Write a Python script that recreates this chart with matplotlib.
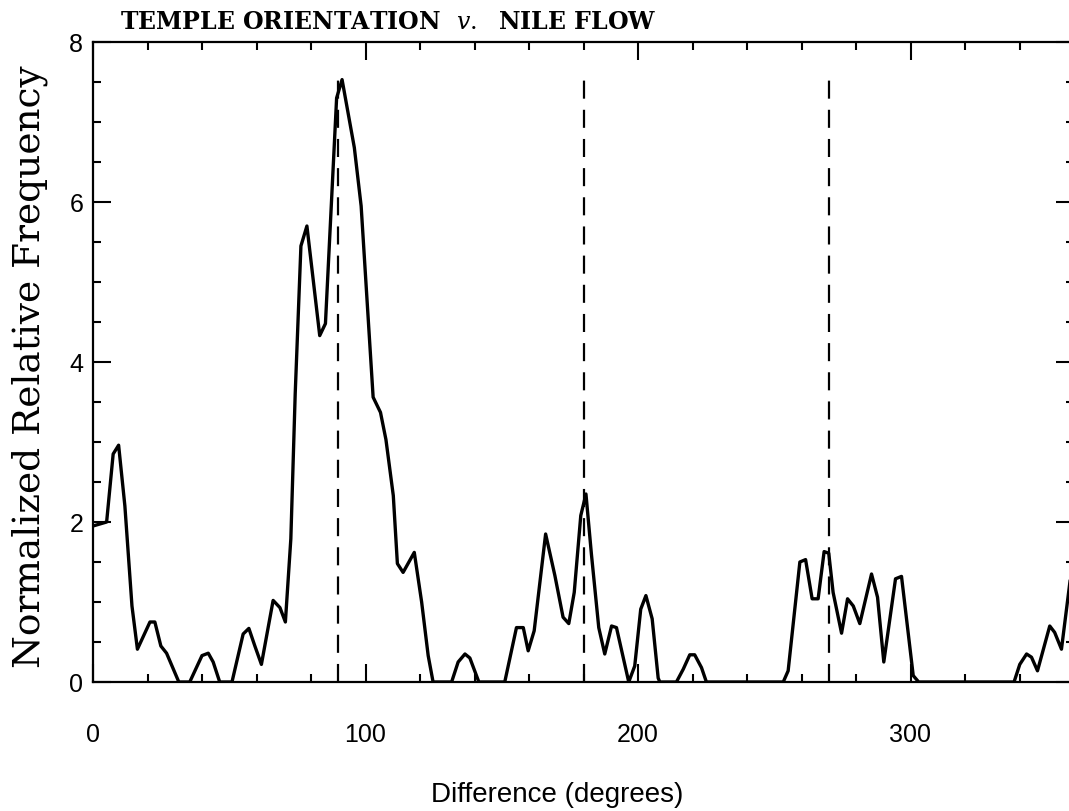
import matplotlib
matplotlib.use('Agg')
from matplotlib import pyplot as plt
from matplotlib.ticker import MultipleLocator

# curve vertices
difference_deg = [0.0, 5.0, 7.4, 9.4, 11.7, 14.3, 16.3, 20.9, 22.7, 24.9,
                  27.0, 31.5, 35.5, 40.0, 42.3, 44.1, 46.5, 51.0, 55.1, 57.2,
                  59.4, 61.8, 66.1, 68.6, 70.6, 72.6, 74.2, 76.3, 78.5, 83.2,
                  85.3, 89.4, 91.4, 95.9, 98.4, 102.8, 105.5, 107.5, 110.2, 111.7,
                  113.8, 117.9, 120.6, 123.0, 124.8, 131.6, 134.0, 136.5, 138.3, 141.6,
                  151.1, 155.4, 157.9, 159.7, 161.9, 166.1, 169.5, 172.5, 174.6, 176.6,
                  179.0, 180.9, 182.9, 185.6, 187.8, 190.3, 192.1, 196.6, 198.8, 201.0,
                  202.9, 205.2, 207.4, 208.0, 214.1, 216.6, 219.0, 220.8, 223.3, 225.1,
                  253.3, 255.1, 259.4, 261.5, 263.9, 266.1, 268.3, 270.0, 271.6, 274.7,
                  276.9, 279.0, 281.4, 285.7, 287.9, 290.2, 294.5, 296.7, 301.0, 303.0,
                  338.0, 340.1, 342.6, 344.4, 346.6, 351.1, 352.9, 355.4, 358.8]
rel_freq = [1.95, 2.0, 2.85, 2.96, 2.2, 0.95, 0.41, 0.75, 0.75, 0.45,
            0.36, 0.0, 0.0, 0.33, 0.36, 0.25, 0.0, 0.0, 0.6, 0.67,
            0.45, 0.22, 1.02, 0.93, 0.75, 1.79, 3.6, 5.45, 5.70, 4.33,
            4.48, 7.30, 7.53, 6.68, 5.95, 3.56, 3.37, 3.03, 2.33, 1.48,
            1.37, 1.62, 1.0, 0.33, 0.0, 0.0, 0.25, 0.35, 0.3, 0.0,
            0.0, 0.68, 0.68, 0.39, 0.64, 1.85, 1.33, 0.81, 0.73, 1.12,
            2.08, 2.35, 1.6, 0.68, 0.35, 0.7, 0.68, 0.0, 0.2, 0.91,
            1.08, 0.79, 0.05, 0.0, 0.0, 0.16, 0.34, 0.34, 0.18, 0.0,
            0.0, 0.14, 1.5, 1.53, 1.04, 1.04, 1.63, 1.61, 1.12, 0.61,
            1.04, 0.95, 0.73, 1.35, 1.06, 0.25, 1.29, 1.32, 0.08, 0.0,
            0.0, 0.22, 0.35, 0.31, 0.14, 0.7, 0.62, 0.41, 1.33]

reference_deg = [90, 180, 270]
reference_top = 7.65

x_ticks = [0, 100, 200, 300]
x_ticklabels = ['0', '100', '200', '300']
y_ticks = [0, 2, 4, 6, 8]

title = r'TEMPLE ORIENTATION  $\mathit{v.}$  NILE FLOW'
x_label = 'Difference (degrees)'
y_label = 'Normalized Relative Frequency'

plt.rcParams['lines.scale_dashes'] = False
plt.rcParams['mathtext.fontset'] = 'dejavuserif'

W, H = 1069, 812
fig = plt.figure(figsize=(W / 100, H / 100), dpi=100)
# axes run slightly past the right edge, as in the cropped scan
ax = fig.add_axes([93 / W, 129 / H, 981 / W, 640 / H])

ax.plot(difference_deg, rel_freq, color='black', lw=2.4)
for xv in reference_deg:
    ax.plot([xv, xv], [0, reference_top], color='black', lw=1.6,
            linestyle=(0, (13, 8)))

ax.set_xlim(0, 360)
ax.set_ylim(0, 8)
ax.set_xticks(x_ticks)
ax.set_xticklabels(x_ticklabels)
ax.set_yticks(y_ticks)
ax.xaxis.set_minor_locator(MultipleLocator(20))
ax.yaxis.set_minor_locator(MultipleLocator(0.5))

ax.tick_params(which='both', direction='in', top=True, right=True,
               width=1.5, color='black')
ax.tick_params(which='major', length=13)
ax.tick_params(which='minor', length=6)
ax.tick_params(axis='x', which='major', pad=29, labelsize=18)
ax.tick_params(axis='y', which='major', pad=7, labelsize=18)
for lab in ax.get_xticklabels() + ax.get_yticklabels():
    lab.set_fontfamily('Liberation Sans')

for sp in ax.spines.values():
    sp.set_linewidth(1.6)

fig.text(120 / W, 1 - 22 / H, title, ha='left', va='center',
         fontfamily='DejaVu Serif', fontweight='bold', fontsize=17)
fig.text(557 / W, 1 - 795 / H, x_label, ha='center', va='center',
         fontfamily='Liberation Sans', fontsize=20)
fig.text(30 / W, 1 - 367 / H, y_label, ha='center', va='center',
         rotation=90, fontfamily='DejaVu Serif', fontsize=27)

fig.savefig('out.png', dpi=100)
